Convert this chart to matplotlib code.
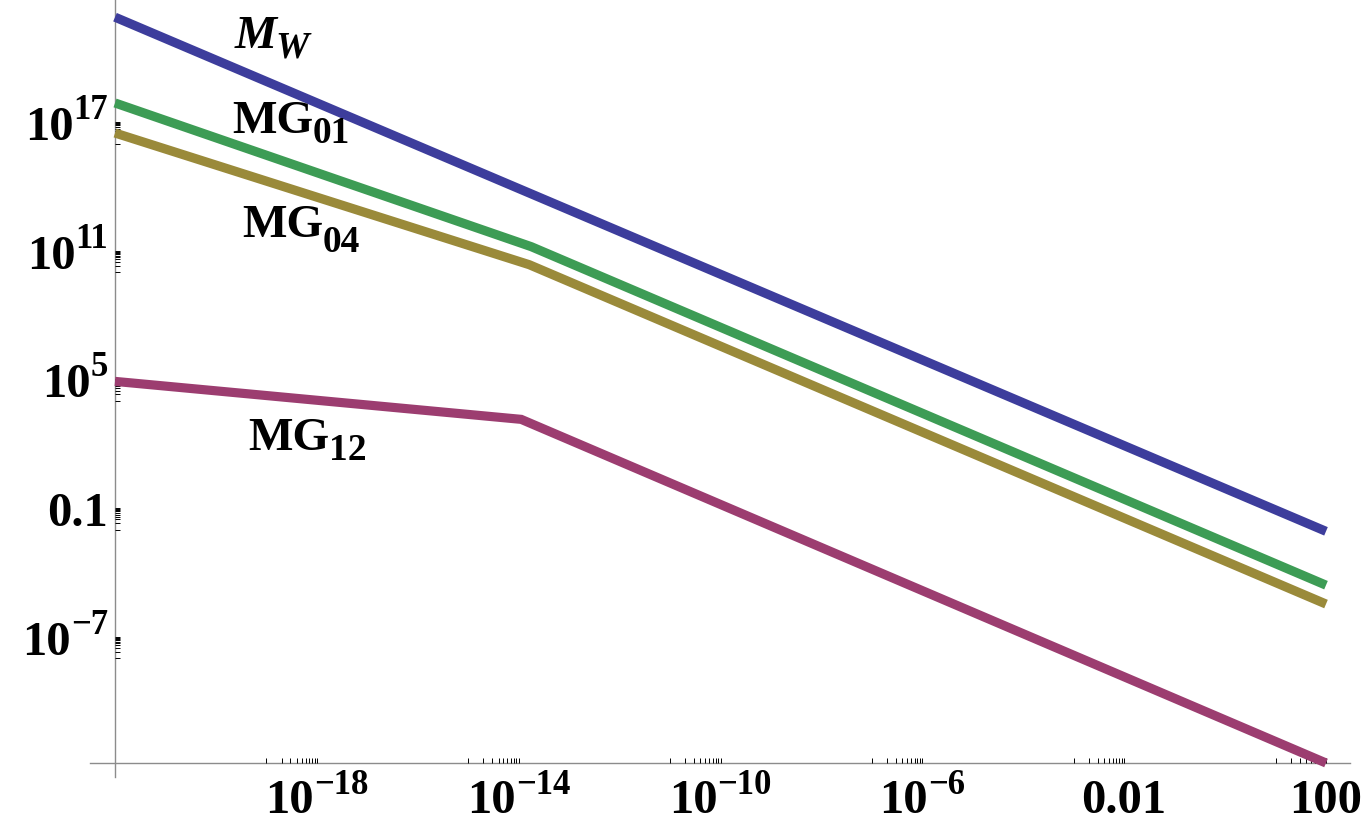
import numpy as np
import matplotlib
matplotlib.use("Agg")
import matplotlib.pyplot as plt
from matplotlib.ticker import FixedLocator, NullFormatter

plt.rcParams['font.family'] = ['Liberation Serif', 'DejaVu Serif']
plt.rcParams['font.weight'] = 'bold'

# ---- data (log10 values) ----
x_log_mw = [-22.0, 2.0]
y_log_mw = [21.89, -2.08]

x_log_mg01 = [-22.0, -13.75, 2.0]
y_log_mg01 = [17.89, 11.19, -4.59]

x_log_mg04 = [-22.0, -13.79, 2.0]
y_log_mg04 = [16.49, 10.35, -5.47]

x_log_mg12 = [-22.0, -13.95, 2.0]
y_log_mg12 = [4.91, 3.14, -12.88]

# label: (base, subscript, italic)
series_labels = [('M', 'W', True), ('MG', '01', False), ('MG', '04', False), ('MG', '12', False)]
colors = ['#3d3d9c', '#3d9c55', '#9a8a3a', '#9c3d70']

x_tick_exps = [-18, -14, -10, -6, -2, 2]
x_tick_labels = [('10', '\u221218'), ('10', '\u221214'), ('10', '\u221210'),
                 ('10', '\u22126'), ('0.01', ''), ('100', '')]
y_tick_exps = [17, 11, 5, -1, -7]
y_tick_labels = [('10', '17'), ('10', '11'), ('10', '5'), ('0.1', ''), ('10', '\u22127')]

W, H = 1361, 824
fig = plt.figure(figsize=(W / 100, H / 100), dpi=100)
left, right, top, bottom = 115, 1326, 0, 763
ax = fig.add_axes([left / W, 1 - bottom / H, (right - left) / W, (bottom - top) / H])

series = [(x_log_mw, y_log_mw), (x_log_mg01, y_log_mg01),
          (x_log_mg04, y_log_mg04), (x_log_mg12, y_log_mg12)]
for (xl, yl), c in zip(series, colors):
    ax.plot(10.0 ** np.array(xl), 10.0 ** np.array(yl), color=c, lw=6.6,
            solid_capstyle='butt', solid_joinstyle='miter', clip_on=False, zorder=3)

ax.set_xscale('log')
ax.set_yscale('log')
ax.set_xlim(1e-22, 1e2)
ax.set_ylim(10 ** -12.88, 10 ** 22.69)

for s in ax.spines.values():
    s.set_visible(False)

ax.plot([-0.021, 1.02], [0, 0], transform=ax.transAxes, color='#8c8c8c', lw=1.0, clip_on=False, zorder=1)
ax.plot([0, 0], [-0.018, 1.0], transform=ax.transAxes, color='#8c8c8c', lw=1.0, clip_on=False, zorder=1)

xmaj = [10.0 ** e for e in x_tick_exps]
ymaj = [10.0 ** e for e in y_tick_exps]
ax.xaxis.set_major_locator(FixedLocator(xmaj))
ax.yaxis.set_major_locator(FixedLocator(ymaj))
xminor, yminor = [], []
for e in x_tick_exps:
    xminor += [m * 10.0 ** (e - 1) for m in range(1, 10)]
for e in y_tick_exps:
    yminor += [m * 10.0 ** (e - 1) for m in range(1, 10)]
ax.xaxis.set_minor_locator(FixedLocator(xminor))
ax.yaxis.set_minor_locator(FixedLocator(yminor))
ax.xaxis.set_minor_formatter(NullFormatter())
ax.yaxis.set_minor_formatter(NullFormatter())
ax.tick_params(which='both', direction='in', length=3.5, width=0.7, color='black',
               labelbottom=False, labelleft=False)

renderer = fig.canvas.get_renderer()


def ftext(px, py, s, size, ha='left', italic=False):
    return fig.text(px / W, 1 - py / H, s, fontsize=size, ha=ha, va='baseline',
                    fontweight='bold', fontstyle='italic' if italic else 'normal')


def width(t):
    return t.get_window_extent(renderer).width


BASE, SUP = 35, 25
# x tick labels
for v, (b, sup) in zip(xmaj, x_tick_labels):
    cx = ax.transData.transform((v, 1.0))[0]
    tb = ftext(0, 813, b, BASE)
    wb = width(tb)
    ws = 0
    if sup:
        ts = ftext(0, 794, sup, SUP)
        ws = width(ts)
    x0 = cx - (wb + ws) / 2
    tb.set_x(x0 / W)
    if sup:
        ts.set_x((x0 + wb) / W)

# y tick labels (right aligned at x=108)
for v, (b, sup) in zip(ymaj, y_tick_labels):
    cy = H - ax.transData.transform((1.0, v))[1]
    xr = 108
    if sup:
        ts = ftext(xr, cy - 3, sup, SUP, ha='right')
        xr -= width(ts)
    ftext(xr, cy + 18, b, BASE, ha='right')

# series labels: (left x, base baseline, sub baseline)
lab_pos = [(235, 48, 57), (232, 133, 143), (242, 237, 252), (248, 450, 460)]
for (b, sub, it), (px, by, sy) in zip(series_labels, lab_pos):
    tb = ftext(px, by, b, 34, italic=it)
    ftext(px + width(tb) + (-2 if it else 0), sy, sub, 27, italic=it)

fig.savefig('out.png', dpi=100)
